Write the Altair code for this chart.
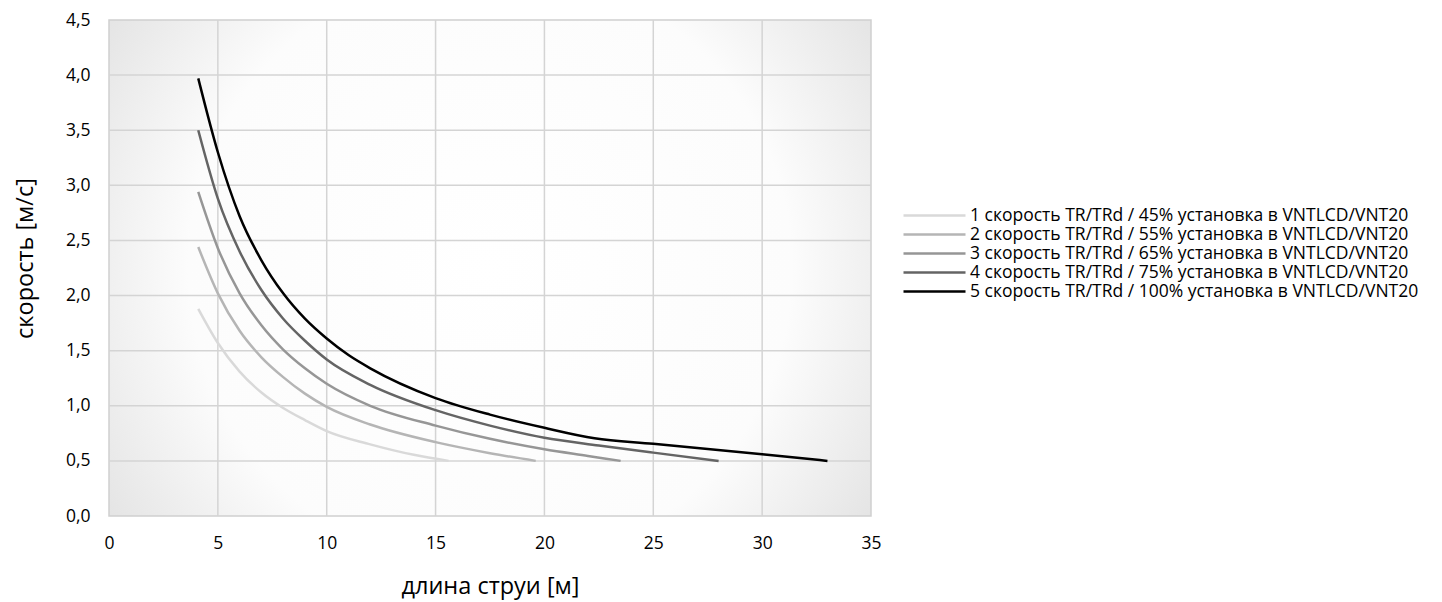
import altair as alt
import pandas as pd

series_names = [
    "1 скорость TR/TRd / 45% установка в VNTLCD/VNT20",
    "2 скорость TR/TRd / 55% установка в VNTLCD/VNT20",
    "3 скорость TR/TRd / 65% установка в VNTLCD/VNT20",
    "4 скорость TR/TRd / 75% установка в VNTLCD/VNT20",
    "5 скорость TR/TRd / 100% установка в VNTLCD/VNT20",
]
series_colors = ["#d9d9d9", "#b5b5b5", "#969696", "#646464", "#000000"]

x_ticks = [0, 5, 10, 15, 20, 25, 30, 35]
y_ticks = [0, 0.5, 1, 1.5, 2, 2.5, 3, 3.5, 4, 4.5]

x1 = [4.1, 5, 6, 7, 8, 9, 10, 12, 14, 15.6]
y1 = [1.88, 1.57, 1.31, 1.12, 0.98, 0.87, 0.77, 0.65, 0.555, 0.50]

x2 = [4.1, 5, 6, 7, 8, 9, 10, 12, 15, 17.5, 19.6]
y2 = [2.44, 2.02, 1.68, 1.44, 1.26, 1.11, 0.99, 0.83, 0.67, 0.57, 0.50]

x3 = [4.1, 5, 6, 7, 8, 9, 10, 12, 15, 17.5, 20, 22, 23.5]
y3 = [2.94, 2.43, 2.02, 1.73, 1.51, 1.34, 1.20, 1.00, 0.82, 0.70, 0.605, 0.545, 0.50]

x4 = [4.1, 5, 6, 7, 8, 9, 10, 12, 15, 17.5, 20, 22.5, 25, 28]
y4 = [3.50, 2.88, 2.40, 2.05, 1.79, 1.59, 1.42, 1.19, 0.96, 0.82, 0.71, 0.64, 0.575, 0.50]

x5 = [4.1, 5, 6, 7, 8, 9, 10, 11, 12, 15, 17.5, 20, 22.3, 25, 30, 33]
y5 = [3.97, 3.30, 2.72, 2.32, 2.02, 1.79, 1.61, 1.46, 1.34, 1.07, 0.92, 0.80, 0.705, 0.655, 0.56, 0.50]

xs = [x1, x2, x3, x4, x5]
ys = [y1, y2, y3, y4, y5]

rows = []
for name, xv, yv in zip(series_names, xs, ys):
    for a, b in zip(xv, yv):
        rows.append({"series": name, "x": a, "y": b})
df = pd.DataFrame(rows)

FONT = "Open Sans"
W, H = 762, 496

xscale = alt.Scale(domain=[0, 35], nice=False)
yscale = alt.Scale(domain=[0, 4.5], nice=False)

gradient = alt.RadialGradient(
    gradient="radial",
    x1=0.5, y1=0.5, r1=0.0,
    x2=0.5, y2=0.5, r2=0.72,
    stops=[
        alt.GradientStop(offset=0.0, color="#ffffff"),
        alt.GradientStop(offset=0.55, color="#fcfcfc"),
        alt.GradientStop(offset=1.0, color="#d6d6d6"),
    ],
)

bg = (
    alt.Chart(pd.DataFrame({"a": [0]}))
    .mark_rect(fill=gradient, stroke="#d0d0d0", strokeWidth=1.5)
    .encode(
        x=alt.datum(0, scale=xscale),
        x2=alt.datum(35),
        y=alt.datum(0, scale=yscale),
        y2=alt.datum(4.5),
    )
)

vgrid = (
    alt.Chart(pd.DataFrame({"v": x_ticks[1:-1]}))
    .mark_rule(color="#d4d4d4", strokeWidth=1.5)
    .encode(x=alt.X("v:Q", scale=xscale))
)
hgrid = (
    alt.Chart(pd.DataFrame({"v": y_ticks[1:-1]}))
    .mark_rule(color="#d4d4d4", strokeWidth=1.5)
    .encode(y=alt.Y("v:Q", scale=yscale))
)

lines = (
    alt.Chart(df)
    .mark_line(strokeWidth=2.5, interpolate="monotone")
    .encode(
        x=alt.X(
            "x:Q",
            scale=xscale,
            axis=alt.Axis(
                title="длина струи [м]",
                values=x_ticks,
                labelFlush=False,
                labelPadding=18,
                titlePadding=23,
            ),
        ),
        y=alt.Y(
            "y:Q",
            scale=yscale,
            axis=alt.Axis(
                title="скорость [м/с]",
                values=y_ticks,
                labelFlush=False,
                labelExpr="replace(format(datum.value, '.1f'), '.', ',')",
                labelPadding=19,
                titlePadding=28,
                titleY=238,
            ),
        ),
        color=alt.Color(
            "series:N",
            scale=alt.Scale(domain=series_names, range=series_colors),
            legend=alt.Legend(
                title=None,
                orient="none",
                legendX=793,
                legendY=186,
                symbolType="stroke",
                symbolSize=3844,
                symbolStrokeWidth=2.5,
                clipHeight=19,
                labelOffset=3,
                rowPadding=0,
                labelFontSize=17.5,
                labelFont=FONT,
                labelColor="#000000",
                labelLimit=600,
            ),
        ),
        order="x:Q",
    )
)

chart = (
    alt.layer(bg, vgrid, hgrid, lines)
    .properties(
        width=W,
        height=H,
        autosize=alt.AutoSizeParams(type="none"),
        padding={"left": 101, "top": 12, "right": 560, "bottom": 86},
    )
    .configure_view(stroke=None)
    .configure_axis(
        grid=False,
        domain=False,
        ticks=False,
        labelFont=FONT,
        labelFontSize=17.5,
        labelColor="#000000",
        titleFont=FONT,
        titleFontSize=23.5,
        titleFontWeight="normal",
        titleColor="#000000",
    )
)

chart.save("out.html", embed_options={"renderer": "svg", "actions": False})
